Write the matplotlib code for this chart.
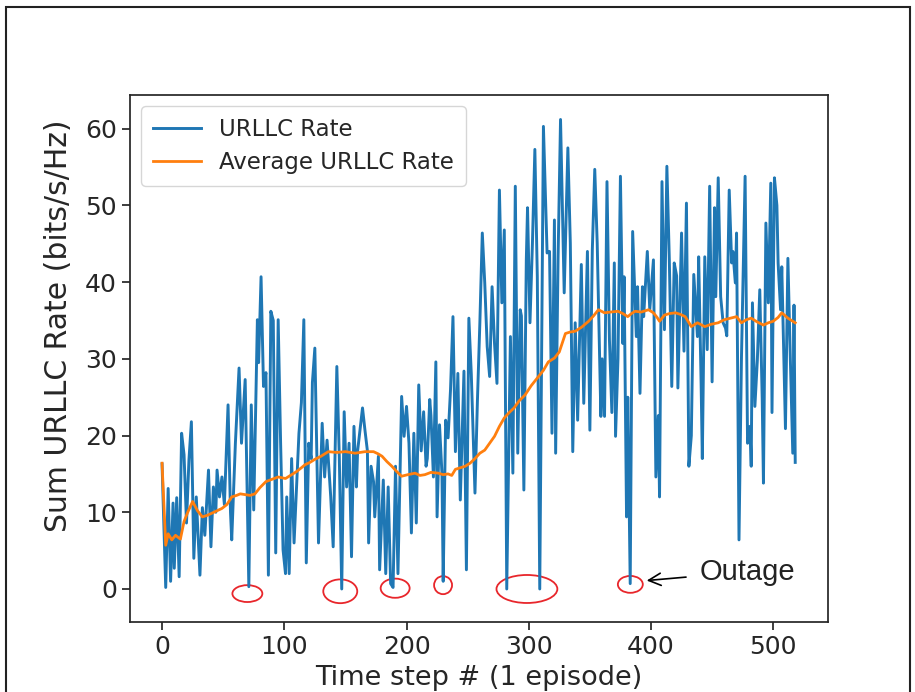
import matplotlib
matplotlib.use("Agg")
import matplotlib.pyplot as plt
from matplotlib.patches import Ellipse, Rectangle

# time step / rate pairs (peaks and dips)
steps = [0, 3, 5, 7, 9, 10, 12, 14, 16, 18, 20, 22, 24, 26, 28, 31, 33, 35, 38, 40,
         42, 44, 45, 47, 49, 51, 54, 56, 57, 60, 63, 65, 68, 71, 73, 75, 78, 79, 81, 83,
         85, 87, 89, 91, 93, 95, 97, 99, 101, 102, 104, 106, 108, 112, 114, 116, 118, 120, 122, 123,
         125, 128, 131, 133, 135, 138, 140, 143, 145, 147, 149, 151, 153, 155, 157, 159, 160, 164, 166, 168,
         169, 171, 173, 174, 177, 178, 181, 183, 185, 187, 189, 191, 193, 196, 198, 200, 202, 204, 206, 208,
         210, 212, 214, 216, 217, 219, 220, 222, 224, 225, 227, 229, 230, 232, 234, 236, 238, 240, 242, 244,
         247, 249, 251, 253, 256, 258, 260, 262, 264, 266, 268, 270, 272, 274, 276, 278, 280, 282, 285, 287,
         289, 291, 293, 294, 296, 298, 299, 301, 303, 305, 307, 309, 312, 315, 317, 319, 321, 322, 324, 326,
         329, 332, 334, 336, 338, 340, 343, 345, 348, 350, 352, 354, 356, 359, 360, 362, 364, 366, 368, 370,
         371, 373, 375, 377, 378, 380, 381, 383, 385, 388, 389, 391, 393, 394, 397, 399, 402, 404, 406, 407,
         409, 411, 413, 415, 417, 419, 421, 422, 425, 427, 429, 431, 433, 435, 438, 439, 441, 442, 444, 446,
         448, 450, 452, 453, 455, 457, 459, 461, 462, 464, 466, 467, 469, 470, 472, 474, 477, 478, 479, 481,
         482, 483, 485, 487, 489, 491, 492, 494, 496, 498, 499, 501, 503, 504, 506, 507, 509, 510, 512, 514,
         516, 517, 518]
urllc_rate = [16.3, 0.2, 13.1, 1.0, 11.2, 2.7, 11.9, 1.6, 20.3, 17.5, 8.6, 16.8, 21.8, 4.0, 12.0, 1.8, 10.6, 7.0, 15.5, 5.5,
              13.3, 10.0, 15.5, 12.0, 14.6, 11.0, 24.0, 10.0, 6.4, 19.0, 28.8, 19.0, 27.3, 0.3, 24.0, 10.3, 35.1, 29.5, 40.7, 26.4,
              28.2, 1.8, 36.2, 35.0, 4.7, 35.1, 19.0, 5.1, 2.0, 12.0, 2.0, 17.0, 6.0, 20.3, 24.3, 35.1, 3.4, 19.0, 17.0, 26.9,
              31.4, 6.0, 21.6, 14.6, 19.4, 12.0, 5.5, 29.0, 17.3, 0.0, 23.1, 13.3, 19.0, 4.2, 21.2, 13.3, 18.0, 23.6, 20.7, 18.0,
              6.0, 16.0, 14.0, 9.4, 17.3, 2.5, 14.2, 2.0, 13.3, 0.7, 0.2, 16.0, 2.0, 25.1, 19.9, 23.8, 19.0, 7.3, 20.3, 8.6,
              26.6, 18.0, 23.1, 16.0, 17.0, 24.7, 22.6, 14.6, 29.6, 9.4, 21.4, 15.0, 1.0, 22.0, 19.7, 26.0, 35.5, 17.9, 28.1, 11.6,
              28.4, 2.5, 35.3, 28.0, 12.5, 24.5, 34.7, 46.4, 39.9, 31.6, 27.7, 39.4, 32.0, 26.8, 52.0, 37.3, 46.8, 0.0, 32.9, 15.1,
              52.5, 17.7, 36.4, 35.6, 12.9, 42.9, 49.7, 34.7, 45.0, 57.3, 40.7, 0.0, 60.3, 43.8, 44.0, 20.3, 48.1, 17.7, 43.3, 61.2,
              38.6, 57.5, 45.1, 17.9, 34.7, 22.0, 42.3, 24.2, 44.0, 20.7, 44.2, 54.7, 45.1, 22.5, 30.0, 22.5, 53.1, 32.5, 23.0, 42.5,
              19.9, 30.0, 53.8, 32.0, 40.7, 9.4, 25.0, 0.7, 46.6, 32.9, 39.4, 25.5, 39.4, 35.5, 44.0, 36.4, 42.9, 14.6, 22.6, 12.0,
              53.1, 33.8, 55.1, 42.9, 26.4, 42.5, 40.8, 26.2, 46.4, 31.0, 50.3, 16.0, 20.0, 41.0, 32.9, 43.3, 26.9, 17.0, 43.3, 31.2,
              52.5, 27.0, 49.7, 38.1, 53.6, 38.1, 34.7, 34.0, 33.0, 52.0, 42.5, 44.0, 39.9, 46.4, 6.4, 30.0, 53.8, 36.4, 19.0, 21.2,
              16.0, 37.3, 23.8, 29.8, 39.0, 24.7, 13.8, 47.7, 37.3, 52.9, 23.0, 53.6, 50.0, 42.5, 36.4, 42.0, 28.2, 20.9, 43.1, 30.0,
              17.7, 37.0, 16.5]

# average curve
avg_steps = [0, 3, 5, 8, 11, 15, 18, 21, 25, 29, 33, 37, 41, 45, 49, 53, 57, 61, 64, 68,
             72, 76, 80, 85, 90, 95, 101, 106, 110, 114, 117, 121, 125, 130, 136, 143, 150, 158, 166, 173,
             177, 180, 184, 188, 192, 196, 201, 207, 211, 215, 220, 226, 230, 234, 237, 240, 244, 248, 252, 256,
             260, 264, 268, 272, 276, 280, 284, 288, 292, 297, 302, 308, 312, 316, 321, 325, 330, 334, 338, 343,
             349, 353, 357, 362, 367, 373, 377, 381, 384, 387, 392, 398, 402, 405, 407, 411, 415, 420, 424, 428,
             433, 438, 444, 449, 455, 460, 465, 470, 474, 478, 482, 487, 492, 496, 500, 504, 507, 512, 518]
avg_rate = [16.4, 5.7, 7.2, 6.4, 7.0, 6.5, 8.8, 10.0, 11.4, 10.2, 9.4, 9.6, 9.9, 10.2, 10.5, 11.0, 12.0, 12.2, 12.4, 12.3,
            12.2, 12.4, 13.2, 14.0, 14.3, 14.6, 14.4, 14.9, 15.3, 15.8, 16.2, 16.5, 16.9, 17.3, 17.9, 17.8, 17.9, 17.7, 17.9, 17.9,
            17.6, 17.3, 16.6, 16.0, 15.3, 14.7, 14.9, 15.1, 14.8, 14.9, 15.2, 15.1, 14.9, 15.0, 14.8, 15.6, 15.8, 16.0, 16.4, 17.0,
            17.7, 18.1, 19.0, 19.9, 21.2, 22.3, 23.0, 23.6, 24.5, 25.3, 26.5, 27.7, 28.5, 29.6, 30.1, 30.9, 33.3, 33.5, 33.6, 34.1,
            34.9, 35.6, 36.4, 36.0, 36.1, 36.2, 35.9, 35.5, 35.9, 36.2, 36.1, 36.4, 36.0, 35.4, 34.9, 35.7, 35.9, 36.0, 35.8, 35.5,
            34.2, 34.7, 34.2, 34.5, 34.7, 35.1, 35.3, 35.5, 34.7, 35.1, 35.3, 34.8, 34.4, 34.7, 34.9, 35.4, 36.0, 35.3, 34.7]

dark = "#262626"

fig = plt.figure(figsize=(9.15, 6.92), dpi=100)
ax = fig.add_axes([0.1421, 0.1012, 0.7628, 0.7616])

ax.plot(steps, urllc_rate, color="#1f77b4", lw=2.1, label="URLLC Rate")
ax.plot(avg_steps, avg_rate, color="#ff7f0e", lw=2.0, label="Average URLLC Rate")

# red rings round the outages
for cx, cy, w, h in [(69.8, -0.6, 24.5, 2.2), (145.8, -0.3, 27.8, 3.1), (190.7, 0.1, 23.7, 2.5),
                     (229.9, 0.5, 14.7, 2.35), (298.5, 0.0, 49.8, 3.65), (383.1, 0.6, 20.4, 2.2)]:
    ax.add_patch(Ellipse((cx, cy), w, h, fill=False, edgecolor="#e8262b", lw=1.3))

ax.annotate("Outage", xy=(396.5, 1.1), xytext=(440, 2.25), fontsize=21,
            family="Liberation Sans", color="#222222", va="center", ha="left",
            arrowprops=dict(arrowstyle="->", color="black", lw=1.2, shrinkA=8, shrinkB=0,
                            mutation_scale=22))

ax.set_xlim(-26.2, 544.8)
ax.set_ylim(-4.3, 64.4)
ax.set_xticks([0, 100, 200, 300, 400, 500])
ax.set_yticks([0, 10, 20, 30, 40, 50, 60])
ax.set_xlabel("Time step # (1 episode)", fontsize=19.5, color=dark, labelpad=4)
ax.set_ylabel("Sum URLLC Rate (bits/s/Hz)", fontsize=21.5, color=dark)
ax.yaxis.set_label_coords(-0.082, 0.562)
ax.tick_params(axis="both", labelsize=18, colors=dark, direction="out", length=6, width=1.25)
for s in ax.spines.values():
    s.set_color(dark)
    s.set_linewidth(1.25)

leg = ax.legend(loc="upper left", fontsize=16.5, frameon=True, fancybox=True,
                edgecolor="0.8", handlelength=2.1, borderpad=0.5, labelspacing=0.45)
for t in leg.get_texts():
    t.set_color(dark)

# border round the whole picture
fig.patches.append(Rectangle((0.0066, -0.02), 0.988, 1.0099, transform=fig.transFigure,
                             fill=False, edgecolor="#222222", lw=1.5))

fig.savefig("out.png", dpi=100)
